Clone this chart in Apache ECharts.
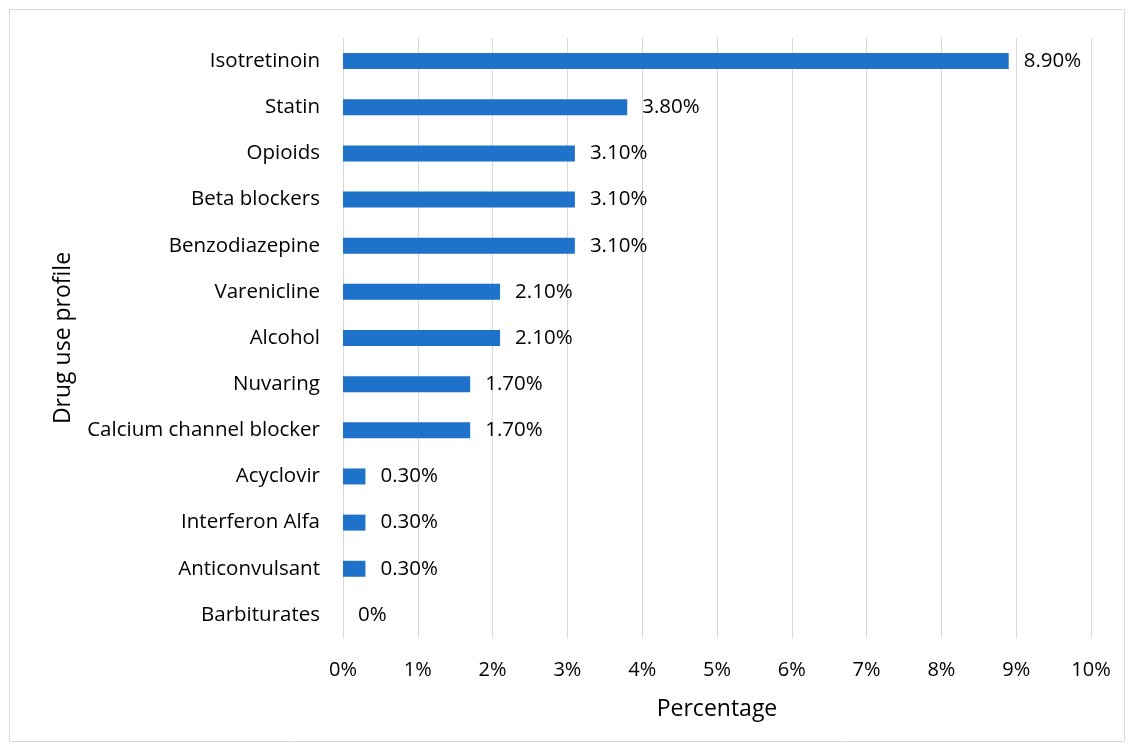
<!DOCTYPE html>
<html><head><meta charset="utf-8">
<script src="https://cdn.jsdelivr.net/npm/echarts@6/dist/echarts.min.js"></script>
<style>html,body{margin:0;padding:0;background:#fff}#c{width:1134px;height:751px}</style>
</head><body><div id="c"></div>
<script>
var categories = ["Isotretinoin","Statin","Opioids","Beta blockers","Benzodiazepine","Varenicline","Alcohol","Nuvaring","Calcium channel blocker","Acyclovir","Interferon Alfa","Anticonvulsant","Barbiturates"];
var values = [8.9,3.8,3.1,3.1,3.1,2.1,2.1,1.7,1.7,0.3,0.3,0.3,0];
var valueLabels = ["8.90%","3.80%","3.10%","3.10%","3.10%","2.10%","2.10%","1.70%","1.70%","0.30%","0.30%","0.30%","0%"];
var xTicks = ["0%","1%","2%","3%","4%","5%","6%","7%","8%","9%","10%"];
var ff = "'Open Sans', 'Noto Sans', sans-serif";
var chart = echarts.init(document.getElementById('c'));
chart.setOption({
  animation:false,
  graphic:[{type:'rect',shape:{x:9.5,y:9.5,width:1115,height:732},style:{fill:'none',stroke:'#d9d9d9',lineWidth:1}}],
  grid:{left:343,right:43,top:38,bottom:113,containLabel:false},
  xAxis:{type:'value',min:0,max:10,interval:1,
    axisLine:{show:false},axisTick:{show:false},
    splitLine:{lineStyle:{color:'#d9d9d9',width:1}},
    axisLabel:{color:'#000',fontFamily:ff,fontSize:20,margin:22,formatter:function(v){return xTicks[Math.round(v)];}},
    name:'Percentage',nameLocation:'middle',nameGap:60,nameTextStyle:{color:'#000',fontFamily:ff,fontSize:23}
  },
  yAxis:{type:'category',data:categories,inverse:true,
    axisLine:{show:false},axisTick:{show:false},
    axisLabel:{color:'#000',fontFamily:ff,fontSize:20.5,margin:23,padding:[2,0,0,0]},
    name:'Drug use profile',nameLocation:'middle',nameGap:268,nameTextStyle:{color:'#000',fontFamily:ff,fontSize:23}
  },
  series:[{type:'bar',data:values,barWidth:16,itemStyle:{color:'#1f72c9'},
    label:{show:true,position:'right',distance:15,color:'#000',fontFamily:ff,fontSize:20.5,padding:[4,0,0,0],
      formatter:function(p){return valueLabels[p.dataIndex];}}}]
});
</script></body></html>
